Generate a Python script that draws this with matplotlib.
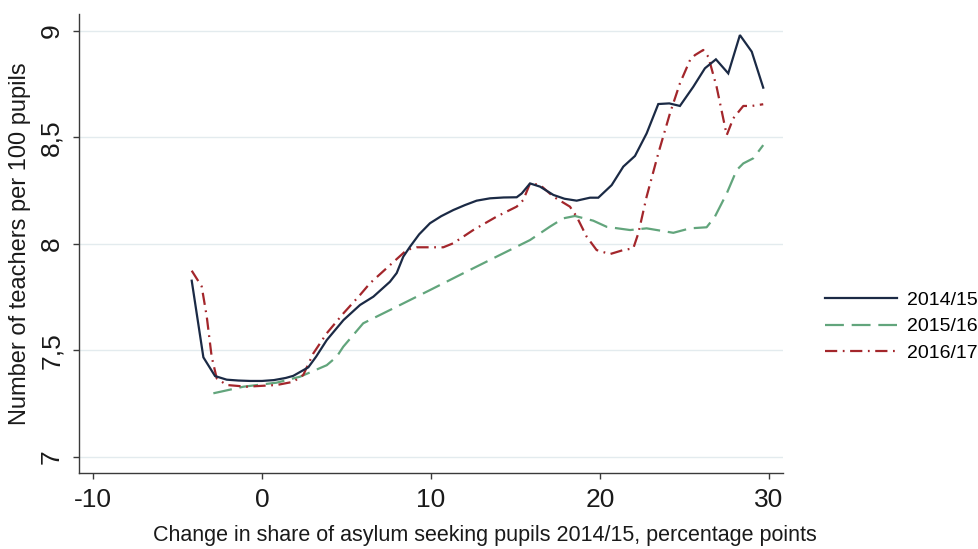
import matplotlib
matplotlib.use("Agg")
import matplotlib.pyplot as plt
from matplotlib.lines import Line2D

plt.rcParams['font.family'] = ['Liberation Sans', 'DejaVu Sans']

# ---- data ----
x_1415 = [-4.16, -3.47, -2.78, -2.09, -1.40, -0.70, 0.00, 0.70, 1.40, 1.85, 2.74, 3.20, 3.83,
          4.82, 5.80, 6.59, 7.57, 7.97, 8.36, 8.76, 9.30, 9.94, 10.60, 11.32, 12.00, 12.70,
          13.49, 14.30, 15.07, 15.37, 15.86, 16.45, 17.24, 17.90, 18.62, 19.41, 19.90, 20.69,
          21.38, 22.07, 22.76, 23.45, 24.10, 24.73, 25.52, 26.21, 26.86, 27.59, 28.28, 28.98, 29.66]
y_1415 = [7.827, 7.467, 7.379, 7.362, 7.358, 7.356, 7.356, 7.360, 7.370, 7.380, 7.420, 7.470, 7.548,
          7.642, 7.713, 7.752, 7.822, 7.863, 7.940, 7.987, 8.045, 8.097, 8.130, 8.159, 8.182, 8.203,
          8.214, 8.218, 8.219, 8.237, 8.284, 8.269, 8.230, 8.212, 8.203, 8.217, 8.217, 8.276,
          8.363, 8.413, 8.519, 8.657, 8.660, 8.648, 8.738, 8.825, 8.867, 8.801, 8.981, 8.903, 8.734]

x_1516 = [-2.88, -1.10, 0.87, 2.25, 3.83, 4.42, 4.81, 5.99, 7.97, 9.94, 11.91, 13.88, 15.86,
          17.04, 17.83, 18.52, 19.60, 20.40, 21.78, 22.76, 24.34, 25.33, 26.31, 26.80, 27.50,
          28.09, 28.48, 29.07, 29.66]
y_1516 = [7.298, 7.329, 7.348, 7.376, 7.430, 7.470, 7.517, 7.627, 7.705, 7.783, 7.862, 7.940, 8.018,
          8.081, 8.120, 8.131, 8.109, 8.080, 8.065, 8.073, 8.052, 8.073, 8.078, 8.128, 8.237,
          8.347, 8.378, 8.402, 8.464]

x_1617 = [-4.16, -3.57, -3.27, -2.98, -2.68, -2.09, -0.91, 0.87, 1.85, 2.44, 3.04, 3.83, 4.82,
          5.80, 6.39, 7.57, 8.56, 9.15, 10.73, 11.32, 12.50, 13.88, 15.07, 15.46, 15.86, 16.45,
          17.24, 18.22, 18.62, 19.21, 19.80, 20.59, 21.38, 21.97, 22.27, 22.76, 23.45, 24.14,
          24.73, 25.33, 25.62, 26.11, 26.41, 26.90, 27.50, 27.89, 28.48, 28.98, 29.66]
y_1617 = [7.874, 7.800, 7.658, 7.470, 7.368, 7.337, 7.329, 7.337, 7.352, 7.384, 7.486, 7.580, 7.674,
          7.760, 7.815, 7.900, 7.971, 7.984, 7.984, 8.003, 8.065, 8.128, 8.175, 8.206, 8.284, 8.277,
          8.222, 8.175, 8.128, 8.034, 7.971, 7.952, 7.971, 7.979, 8.050, 8.222, 8.425, 8.613,
          8.754, 8.864, 8.887, 8.911, 8.879, 8.738, 8.511, 8.590, 8.648, 8.648, 8.656]

labels = ["2014/15", "2015/16", "2016/17"]
x_ticks = [-10, 0, 10, 20, 30]
y_ticks = [7, 7.5, 8, 8.5, 9]
y_ticklabels = ["7", "7,5", "8", "8,5", "9"]

c_navy = "#1b2a45"
c_green = "#62a57c"
c_red = "#a3262b"

fig = plt.figure(figsize=(9.79, 5.49), dpi=100)
ax = fig.add_axes([0.0807, 0.139, 0.7191, 0.8355])

ax.plot(x_1415, y_1415, color=c_navy, lw=1.6, solid_joinstyle='miter', label=labels[0], zorder=3)
ax.plot(x_1516, y_1516, color=c_green, lw=1.6, dashes=(8.5, 3.5), label=labels[1], zorder=2)
ax.plot(x_1617, y_1617, color=c_red, lw=1.6, dashes=(5.5, 2.5, 0.8, 2.5), label=labels[2], zorder=2)

ax.set_xlim(-10.83, 30.83)
ax.set_ylim(6.925, 9.08)
ax.set_xticks(x_ticks)
ax.set_xticklabels([str(v) for v in x_ticks])
ax.set_yticks(y_ticks)
ax.set_yticklabels(y_ticklabels, rotation=90, va='center')

ax.grid(axis='y', color='#e3ebee', lw=1.0, zorder=0)
ax.set_axisbelow(True)
for s in ['top', 'right']:
    ax.spines[s].set_visible(False)
for s in ['left', 'bottom']:
    ax.spines[s].set_color('#3a3a3a')
    ax.spines[s].set_linewidth(1.0)
ax.tick_params(axis='both', direction='out', length=4, width=1.0, color='#3a3a3a',
               labelsize=19, labelcolor='#1a1a1a', pad=7)

ax.set_xlabel("Change in share of asylum seeking pupils 2014/15, percentage points",
              fontsize=15.5, color='#1a1a1a')
ax.xaxis.set_label_coords(0.577, -0.115)
ax.set_ylabel("Number of teachers per 100 pupils", fontsize=17, color='#1a1a1a', labelpad=6)

handles = [Line2D([], [], color=c_navy, lw=1.6),
           Line2D([], [], color=c_green, lw=1.6, dashes=(8.5, 3.5)),
           Line2D([], [], color=c_red, lw=1.6, dashes=(5.5, 2.5, 0.8, 2.5))]
fig.legend(handles, labels, loc='center left', bbox_to_anchor=(0.843, 0.405),
           frameon=False, fontsize=14, handlelength=3.7, handletextpad=0.5,
           labelspacing=0.45, borderaxespad=0, borderpad=0)

fig.savefig("out.png", dpi=100)
